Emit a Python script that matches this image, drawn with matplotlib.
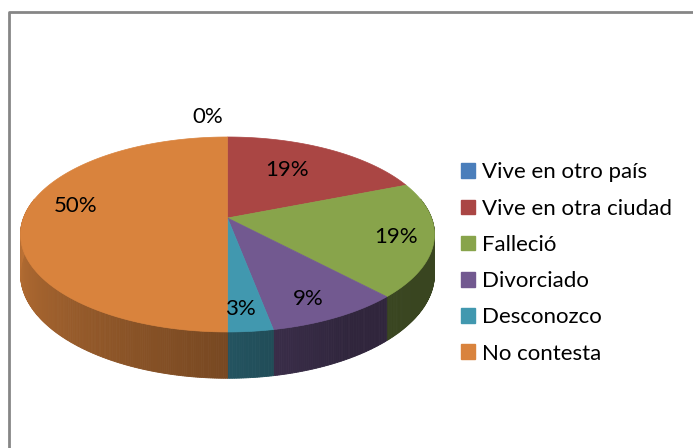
import numpy as np
import matplotlib.pyplot as plt
from matplotlib.colors import to_rgb
from matplotlib.patches import Polygon, Patch

# 3D-style pie (Excel look) with simple perspective

categories = ["Vive en otro país", "Vive en otra ciudad", "Falleció",
              "Divorciado", "Desconozco", "No contesta"]
values = [0, 19, 19, 9, 3, 50]
pct_labels = ["0%", "19%", "19%", "9%", "3%", "50%"]
colors = ["#4A7EBB", "#AA4644", "#88A44B", "#725990", "#4198AF", "#D9833D"]

# layout (pixels)
W, H = 693, 448
cx, cy = 227.5, 218.0   # apex of the pie
ra, rb = 204.0, 94.7
persp = 0.169
depth = 38.5
label_xy = [(208, 117), (287, 170), (396, 237), (308, 299), (240, 309), (76, 206)]

FONT = ["Lato", "DejaVu Sans"]
FS = 16


def pt(theta, dz=0.0):
    t = np.radians(theta)
    s = 1.0 / (1.0 + persp * np.sin(t))
    return cx + ra * np.cos(t) * s, cy - rb * np.sin(t) * s + dz * s


def shade(theta):
    t = theta % 360
    if t < 90:
        t += 360
    return np.interp(t, [170, 270, 300, 370], [0.9, 0.55, 0.42, 0.42])


def main():
    fig = plt.figure(figsize=(W / 100, H / 100), dpi=100)
    ax = fig.add_axes([0, 0, 1, 1])
    ax.set_xlim(0, W)
    ax.set_ylim(H, 0)
    ax.axis("off")

    # chart border (only top and left visible)
    ax.plot([8.5, 8.5, W], [H, 12.5, 12.5], color="#868686", lw=2,
            solid_capstyle="butt")

    total = float(sum(values))
    cum = np.concatenate([[0], np.cumsum(values)]) / total
    starts = 90 - 360 * cum[:-1]
    ends = 90 - 360 * cum[1:]

    # side walls of the front half
    for i, v in enumerate(values):
        if v == 0:
            continue
        lo, hi = max(ends[i], -192), min(starts[i], 12)
        if lo >= hi:
            continue
        base = np.array(to_rgb(colors[i]))
        angs = np.linspace(hi, lo, max(int((hi - lo) * 2), 2))
        for k in range(len(angs) - 1):
            t0, t1 = angs[k], angs[k + 1]
            c = np.clip(base * shade((t0 + t1) / 2), 0, 1)
            ax.add_patch(Polygon([pt(t0), pt(t1), pt(t1, depth), pt(t0, depth)],
                                 closed=True, facecolor=c, edgecolor=c, lw=0.6))

    # top faces
    for i, v in enumerate(values):
        if v == 0:
            continue
        angs = np.linspace(starts[i], ends[i], 120)
        pts = [(cx, cy)] + [pt(a) for a in angs]
        ax.add_patch(Polygon(pts, closed=True, facecolor=colors[i],
                             edgecolor=colors[i], lw=0.5))

    for (x, y), s in zip(label_xy, pct_labels):
        ax.text(x, y, s, ha="center", va="center", fontsize=FS, family=FONT,
                color="black")

    handles = [Patch(facecolor=c, edgecolor=c) for c in colors]
    ax.legend(handles, categories, loc="center left", bbox_to_anchor=(461, 263),
              bbox_transform=ax.transData, frameon=False,
              prop={"family": FONT, "size": FS}, handlelength=0.63,
              handleheight=0.63, handletextpad=0.3, labelspacing=0.73,
              borderpad=0, borderaxespad=0)

    fig.savefig("out.png", dpi=100)


if __name__ == "__main__":
    main()
